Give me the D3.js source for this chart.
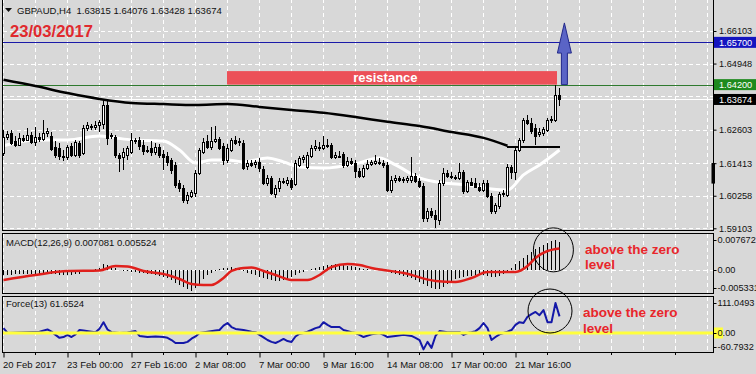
<!DOCTYPE html>
<html>
<head>
<meta charset="utf-8">
<script src="https://cdn.jsdelivr.net/npm/d3@7/dist/d3.min.js"></script>
<style>
html,body{margin:0;padding:0;background:#d8d8d8;}
svg{display:block;}
text{font-family:"Liberation Sans",Arial,sans-serif;}
</style>
</head>
<body>
<svg id="chart" width="756" height="374"></svg>
<script>
// ---------------- data ----------------
const symbolTitle = "GBPAUD,H4";
const lastOHLC = [1.63815, 1.64076, 1.63428, 1.63674];
const dateTitle = "23/03/2017";
const timeLabels = ["20 Feb 2017","23 Feb 00:00","27 Feb 16:00","2 Mar 08:00","7 Mar 00:00","9 Mar 16:00","14 Mar 08:00","17 Mar 00:00","21 Mar 16:00"];
const timeLabelBars = [0,16,32,48,64,80,96,112,128];
const priceTicks = [1.66103,1.64948,1.63793,1.62603,1.61413,1.60258,1.59103];

const open = [
1.6178,1.6234,1.6249,1.6220,1.6206,1.6231,1.6224,1.6242,1.6217,1.6234,
1.6227,1.6249,1.6238,1.6199,1.6195,1.6167,1.6164,1.6203,1.6171,1.6213,
1.6178,1.6266,1.6273,1.6270,1.6277,1.6281,1.6348,1.6238,1.6234,1.6171,
1.6164,1.6171,1.6181,1.6220,1.6224,1.6206,1.6185,1.6195,1.6181,1.6199,
1.6174,1.6167,1.6153,1.6135,1.6071,1.6054,1.6011,1.6025,1.6036,1.6107,
1.6181,1.6220,1.6199,1.6220,1.6227,1.6203,1.6153,1.6188,1.6224,1.6220,
1.6213,1.6132,1.6142,1.6139,1.6146,1.6121,1.6071,1.6089,1.6032,1.6054,
1.6078,1.6071,1.6082,1.6068,1.6135,1.6156,1.6128,1.6167,1.6195,1.6199,
1.6195,1.6206,1.6206,1.6164,1.6167,1.6174,1.6135,1.6149,1.6142,1.6114,
1.6096,1.6124,1.6139,1.6142,1.6146,1.6142,1.6135,1.6046,1.6082,1.6089,
1.6082,1.6082,1.6082,1.6096,1.6078,1.6061,1.5947,1.5972,1.5958,1.5940,
1.6071,1.6107,1.6096,1.6093,1.6089,1.6110,1.6043,1.6075,1.6071,1.6057,
1.6046,1.6071,1.6025,1.5972,1.5990,1.6032,1.6029,1.6128,1.6110,1.6188,
1.6224,1.6295,1.6284,1.6266,1.6245,1.6249,1.6259,1.6295,1.6295,1.63815];
const high = [
1.6259,1.6256,1.6259,1.6238,1.6249,1.6242,1.6266,1.6252,1.6270,1.6249,
1.6295,1.6266,1.6252,1.6220,1.6213,1.6188,1.6206,1.6213,1.6224,1.6220,
1.6277,1.6288,1.6281,1.6291,1.6295,1.6369,1.6362,1.6249,1.6242,1.6178,
1.6195,1.6203,1.6249,1.6231,1.6234,1.6224,1.6203,1.6220,1.6213,1.6210,
1.6188,1.6181,1.6160,1.6146,1.6082,1.6064,1.6039,1.6046,1.6117,1.6195,
1.6231,1.6242,1.6270,1.6273,1.6234,1.6213,1.6210,1.6231,1.6238,1.6231,
1.6224,1.6153,1.6153,1.6153,1.6160,1.6132,1.6100,1.6096,1.6064,1.6089,
1.6089,1.6093,1.6089,1.6153,1.6167,1.6171,1.6181,1.6206,1.6224,1.6217,
1.6238,1.6227,1.6213,1.6181,1.6185,1.6181,1.6164,1.6160,1.6153,1.6124,
1.6135,1.6153,1.6153,1.6171,1.6160,1.6153,1.6146,1.6096,1.6100,1.6096,
1.6093,1.6096,1.6164,1.6107,1.6089,1.6071,1.5983,1.5983,1.5975,1.6082,
1.6124,1.6117,1.6110,1.6100,1.6142,1.6117,1.6082,1.6089,1.6089,1.6071,
1.6082,1.6082,1.6036,1.6000,1.6039,1.6046,1.6139,1.6135,1.6195,1.6231,
1.6302,1.6312,1.6302,1.6281,1.6266,1.6270,1.6302,1.6309,1.6420,1.64076];
const low = [
1.6167,1.6224,1.6206,1.6199,1.6203,1.6217,1.6220,1.6210,1.6203,1.6217,
1.6220,1.6234,1.6185,1.6160,1.6153,1.6149,1.6153,1.6164,1.6164,1.6160,
1.6171,1.6256,1.6259,1.6259,1.6252,1.6263,1.6206,1.6227,1.6160,1.6110,
1.6117,1.6153,1.6174,1.6210,1.6188,1.6171,1.6178,1.6167,1.6171,1.6160,
1.6117,1.6132,1.6103,1.6054,1.6039,1.6000,1.5997,1.6018,1.6022,1.6100,
1.6174,1.6192,1.6188,1.6213,1.6188,1.6135,1.6142,1.6181,1.6206,1.6203,
1.6117,1.6117,1.6128,1.6124,1.6110,1.6064,1.6061,1.6029,1.6018,1.6039,
1.6068,1.6061,1.6046,1.6061,1.6128,1.6142,1.6121,1.6160,1.6185,1.6185,
1.6188,1.6195,1.6156,1.6156,1.6160,1.6124,1.6128,1.6135,1.6089,1.6089,
1.6089,1.6117,1.6132,1.6135,1.6135,1.6124,1.6039,1.6036,1.6071,1.6075,
1.6071,1.6071,1.6071,1.6071,1.6054,1.5933,1.5933,1.5947,1.5912,1.5922,
1.6061,1.6089,1.6085,1.6082,1.6082,1.6032,1.6036,1.6061,1.6054,1.6039,
1.6039,1.6018,1.5961,1.5961,1.5979,1.6022,1.6022,1.6085,1.6082,1.6181,
1.6213,1.6277,1.6245,1.6206,1.6234,1.6238,1.6252,1.6284,1.6288,1.63428];
const close = [
1.6234,1.6245,1.6213,1.6206,1.6231,1.6224,1.6242,1.6217,1.6234,1.6227,
1.6249,1.6256,1.6192,1.6171,1.6167,1.6164,1.6199,1.6171,1.6217,1.6171,
1.6266,1.6277,1.6270,1.6277,1.6288,1.6348,1.6231,1.6242,1.6171,1.6160,
1.6181,1.6195,1.6224,1.6224,1.6203,1.6185,1.6188,1.6181,1.6199,1.6171,
1.6164,1.6146,1.6117,1.6064,1.6054,1.6011,1.6029,1.6039,1.6107,1.6188,
1.6217,1.6199,1.6220,1.6227,1.6195,1.6153,1.6195,1.6224,1.6213,1.6217,
1.6124,1.6142,1.6135,1.6146,1.6124,1.6071,1.6089,1.6036,1.6054,1.6078,
1.6075,1.6082,1.6057,1.6142,1.6160,1.6164,1.6171,1.6195,1.6203,1.6195,
1.6206,1.6203,1.6164,1.6171,1.6164,1.6135,1.6149,1.6142,1.6114,1.6096,
1.6124,1.6139,1.6146,1.6149,1.6142,1.6135,1.6046,1.6082,1.6089,1.6082,
1.6085,1.6089,1.6096,1.6078,1.6061,1.5947,1.5972,1.5958,1.5944,1.6071,
1.6107,1.6096,1.6093,1.6089,1.6110,1.6043,1.6075,1.6064,1.6057,1.6046,
1.6071,1.6025,1.5972,1.5993,1.6032,1.6036,1.6128,1.6110,1.6188,1.6224,
1.6295,1.6284,1.6256,1.6238,1.6252,1.6263,1.6295,1.6298,1.6383,1.63674];

// moving averages read at sampled bars: [bar, price]
const slowMA = [[0,1.6437],[8,1.6415],[16,1.6390],[24,1.6369],[32,1.6355],[40,1.6351],[48,1.6348],[56,1.6351],[64,1.6341],[72,1.6330],[80,1.6320],[88,1.6305],[96,1.6288],[104,1.6273],[112,1.6252],[120,1.6231],[126,1.6203]];
const fastMA = [[0,1.6203],[8,1.6224],[16,1.6224],[24,1.6238],[28,1.6231],[32,1.6224],[40,1.6220],[44,1.6188],[48,1.6142],[52,1.6153],[56,1.6153],[60,1.6146],[66,1.6160],[70,1.6146],[74,1.6128],[80,1.6124],[88,1.6139],[94,1.6160],[98,1.6135],[104,1.6089],[110,1.6071],[116,1.6064],[122,1.6050],[126,1.6046],[130,1.6100],[134,1.6135],[139,1.6188]];

const supportLevel = 1.6199, supportBars = [126, 139.25];
const resistanceLevel = 1.6420, targetLevel = 1.6570;
const resistanceZone = [1.6420, 1.6468], resistanceBars = [56, 138.5];
const arrowBars = {headL:138.6, shaftL:139.6, tip:140.35, shaftR:141.1, headR:142.1};
const arrowPrices = {base:1.6420, neck:1.6532, tip:1.6639};
const axisMarker = [1.6069, 1.6142];

const macdHist = [
-0.00128,-0.00128,-0.00128,-0.00102,-0.00102,-0.00102,-0.00102,-0.00102,-0.00102,-0.00102,
-0.00077,-0.00077,-0.00102,-0.00102,-0.00128,-0.00128,-0.00128,-0.00128,-0.00102,-0.00102,
-0.00051,-0.00026,0,0.00026,0.00051,0.00153,0.00128,0.00077,0.00051,0,
-0.00026,-0.00026,-0.00051,-0.00051,-0.00077,-0.00077,-0.00102,-0.00102,-0.00128,-0.00153,
-0.00179,-0.00205,-0.00256,-0.00333,-0.00384,-0.00435,-0.00486,-0.005331,-0.00460,-0.00358,
-0.00230,-0.00128,-0.00077,-0.00026,0.00026,0.00051,0.00051,0.00077,0.00051,0.00026,
-0.00026,-0.00077,-0.00102,-0.00128,-0.00179,-0.00205,-0.00230,-0.00256,-0.00281,-0.00281,
-0.00256,-0.00230,-0.00179,-0.00128,-0.00077,-0.00051,0,0.00026,0.00051,0.00077,
0.00102,0.00128,0.00128,0.00153,0.00153,0.00128,0.00102,0.00102,0.00077,0.00051,
0.00026,0.00026,0,0,0.00026,0.00026,-0.00026,-0.00077,-0.00102,-0.00128,
-0.00153,-0.00179,-0.00205,-0.00256,-0.00307,-0.00358,-0.00409,-0.00460,-0.00486,-0.00486,
-0.00435,-0.00358,-0.00281,-0.00230,-0.00205,-0.00179,-0.00153,-0.00153,-0.00128,-0.00128,
-0.00128,-0.00153,-0.00179,-0.00179,-0.00153,-0.00102,-0.00026,0.00051,0.00153,0.00230,
0.00307,0.00384,0.00460,0.00537,0.00588,0.00640,0.00691,0.00729,0.007672,0.007081];
const macdSignal = [[0,-0.00256],[8,-0.00128],[16,-0.00026],[24,-0.00013],[28,0.00102],[31,0.00090],[35,-0.00026],[41,-0.00128],[44,-0.00230],[47,-0.00358],[50,-0.00384],[52,-0.00384],[55,-0.00205],[57,-0.00026],[60,0.00051],[62,0.00064],[65,-0.00026],[68,-0.00128],[72,-0.00256],[76,-0.00256],[79,-0.00128],[82,0.00077],[86,0.00153],[89,0.00128],[92,0.00051],[95,0.0],[100,-0.00077],[108,-0.00281],[113,-0.00307],[117,-0.00205],[121,-0.00051],[128,-0.00051],[131,0.00102],[133,0.00307],[136,0.00486],[139,0.005524]];
const macdTicks = [0.007672, 0, -0.005331];
const macdTitle = "MACD(12,26,9) 0.007081 0.005524";

const forceSeries = [[0,18],[1,0],[4,2],[9,5],[11,13],[12,5],[13,-7],[14,-18],[15,-15],[16,-7],[17,-15],[18,-5],[19,11],[20,9],[22,5],[23,3],[24,16],[25,40],[26,13],[27,3],[29,0],[31,2],[33,7],[34,-11],[36,-15],[38,-13],[40,-15],[41,-18],[42,-26],[43,-37],[45,-37],[46,-33],[47,-21],[48,-13],[49,0],[51,5],[53,9],[54,11],[55,27],[56,37],[57,22],[58,15],[60,11],[62,5],[63,3],[64,-7],[65,-16],[66,-26],[67,-33],[68,-37],[69,-30],[70,-22],[71,-30],[72,-33],[73,-13],[74,-3],[75,0],[76,5],[77,11],[78,18],[79,22],[80,40],[81,30],[82,22],[83,22],[84,22],[85,11],[87,3],[88,0],[89,-7],[90,-15],[92,-5],[94,0],[95,-7],[96,-15],[98,-11],[100,-7],[102,-11],[103,-18],[104,-26],[105,-60.7932],[106,-33],[107,-55],[108,-11],[109,7],[111,3],[113,3],[114,3],[115,-7],[116,0],[117,3],[118,7],[119,18],[120,37],[121,18],[122,-26],[123,-15],[124,-5],[125,0],[126,5],[127,11],[128,30],[129,40],[130,37],[131,60],[132,70],[133,78],[134,66],[135,85],[136,40],[137,40],[138,111.0493],[139,61.6524]];
const forceTicks = [111.0493, 0, -60.7932];
const forceTitle = "Force(13) 61.6524";

const noteLines = ["above the zero", "level"];
const macdNote = {bar:145.5, vals:[0.00409, 0.00013], circle:{bar:137.6, val:0.00515}};
const forceNote = {bar:145, vals:[60.3, 1.1], circle:{bar:136.75, val:81.4}};

// ---------------- layout ----------------
const W = 756, H = 374;
const plotL = 2.5, plotR = 713.5;
const AXF = "9.2px";
const wins = {
  main:{t:-1, b:230.5},
  macd:{t:233.5, b:293.5},
  force:{t:296.5, b:352.5}
};
const BG = "#d8d8d8";
const x = d3.scaleLinear().domain([0,176]).range([3,707]);
const yMain = d3.scaleLinear().domain([1.59103,1.66103]).range([228.3,31]);
const yMacd = d3.scaleLinear().domain([-0.005331,0.007672]).range([290.8,240]);
const yForce = d3.scaleLinear().domain([-60.7932,111.0493]).range([349.4,303]);

const svg = d3.select("#chart");
svg.append("rect").attr("width",W).attr("height",H).attr("fill",BG);
const defs = svg.append("defs");
Object.entries(wins).forEach(([k,w])=>{
  defs.append("clipPath").attr("id","clip-"+k).append("rect")
    .attr("x",plotL).attr("y",w.t).attr("width",plotR-plotL).attr("height",w.b-w.t);
});
defs.append("clipPath").attr("id","clip-axis").append("rect")
  .attr("x",plotR).attr("y",0).attr("width",W-plotR).attr("height",H);
const layer = k => svg.append("g").attr("clip-path","url(#clip-"+k+")");

// ---- grids ----
const gridBars = d3.range(0,177,8);
Object.entries(wins).forEach(([k,w])=>{
  const g = layer(k).attr("shape-rendering","crispEdges");
  g.selectAll("line").data(gridBars).join("line")
    .attr("x1",d=>x(d)+0.5).attr("x2",d=>x(d)+0.5)
    .attr("y1",w.t).attr("y2",w.b)
    .attr("stroke","#ffffff").attr("stroke-dasharray","4,3");
});
const gMain = layer("main");
gMain.append("g").attr("shape-rendering","crispEdges")
  .selectAll("line").data(priceTicks).join("line")
  .attr("x1",plotL).attr("x2",plotR)
  .attr("y1",d=>Math.round(yMain(d))+0.5).attr("y2",d=>Math.round(yMain(d))+0.5)
  .attr("stroke","#ffffff").attr("stroke-dasharray","4,3");

// ---- horizontal levels ----
const hl = (g,y,color,w)=>g.append("line").attr("x1",plotL).attr("x2",plotR)
  .attr("y1",y).attr("y2",y).attr("stroke",color).attr("stroke-width",w)
  .attr("shape-rendering","crispEdges");
hl(gMain, Math.round(yMain(targetLevel))+0.5, "#1a1aa8", 1);
hl(gMain, Math.round(yMain(resistanceLevel))+0.5, "#2f7a2f", 1);
hl(gMain, Math.round(yMain(lastOHLC[3]))+0.5, "#ffffff", 1);

// ---- resistance zone ----
gMain.append("rect")
  .attr("x",x(resistanceBars[0])).attr("width",x(resistanceBars[1])-x(resistanceBars[0]))
  .attr("y",yMain(resistanceZone[1])).attr("height",yMain(resistanceZone[0])-yMain(resistanceZone[1]))
  .attr("fill","#ec5058");
gMain.append("text").attr("x",x(95.6)).attr("y",yMain(resistanceZone[0])-3)
  .attr("text-anchor","middle").attr("font-size","13px").attr("font-weight","bold")
  .attr("fill","#ffffff").text("resistance");

// ---- moving averages ----
const maLine = d3.line().x(d=>x(d[0])+0.5).y(d=>yMain(d[1])).curve(d3.curveMonotoneX);
gMain.append("path").attr("d",maLine(fastMA)).attr("fill","none").attr("stroke","#ffffff").attr("stroke-width",3);
gMain.append("path").attr("d",maLine(slowMA)).attr("fill","none").attr("stroke","#000").attr("stroke-width",2.5);
gMain.append("line").attr("x1",x(supportBars[0])).attr("x2",x(supportBars[1]))
  .attr("y1",yMain(supportLevel)).attr("y2",yMain(supportLevel))
  .attr("stroke","#000").attr("stroke-width",2);

// ---- candles ----
const bars = d3.range(open.length).map(i=>({i,o:open[i],h:high[i],l:low[i],c:close[i]}));
const cg = gMain.append("g").attr("shape-rendering","crispEdges");
cg.selectAll("line").data(bars).join("line")
  .attr("x1",d=>x(d.i)+0.5).attr("x2",d=>x(d.i)+0.5)
  .attr("y1",d=>Math.round(yMain(d.h))).attr("y2",d=>Math.round(yMain(d.l)))
  .attr("stroke","#000");
cg.selectAll("rect").data(bars).join("rect")
  .attr("x",d=>x(d.i)-0.5).attr("width",2)
  .attr("y",d=>Math.round(yMain(Math.max(d.o,d.c)))+0.5)
  .attr("height",d=>Math.max(1,Math.round(yMain(Math.min(d.o,d.c)))-Math.round(yMain(Math.max(d.o,d.c)))))
  .attr("fill",d=>d.c>=d.o?"#ffffff":"#000000").attr("stroke","#000");

// ---- arrow ----
const ap = [
  [arrowBars.shaftL, arrowPrices.base],[arrowBars.shaftL, arrowPrices.neck],
  [arrowBars.headL, arrowPrices.neck],[arrowBars.tip, arrowPrices.tip],
  [arrowBars.headR, arrowPrices.neck],[arrowBars.shaftR, arrowPrices.neck],
  [arrowBars.shaftR, arrowPrices.base]];
svg.append("polygon").attr("points",ap.map(p=>[x(p[0]),yMain(p[1])].join(",")).join(" "))
  .attr("fill","#5a64c6").attr("stroke","#22298a").attr("stroke-width",1);

// ---- header texts ----
svg.append("polygon").attr("points","5,8 12,8 8.5,12").attr("fill","#111");
svg.append("text").attr("x",17).attr("y",13.5).attr("font-size","9.5px").attr("fill","#111")
  .attr("xml:space","preserve")
  .text(symbolTitle+"  "+lastOHLC.map(d=>d.toFixed(5)).join(" "));
svg.append("text").attr("x",10).attr("y",37).attr("font-size","16.6px").attr("font-weight","bold")
  .attr("fill","#e02a2e").text(dateTitle);

// ---- MACD window ----
const gMacd = layer("macd");
gMacd.append("line").attr("x1",plotL).attr("x2",plotR)
  .attr("y1",Math.round(yMacd(0))+0.5).attr("y2",Math.round(yMacd(0))+0.5)
  .attr("stroke","#ffffff").attr("stroke-dasharray","4,3").attr("shape-rendering","crispEdges");
gMacd.append("g").attr("shape-rendering","crispEdges")
  .selectAll("line").data(macdHist).join("line")
  .attr("x1",(d,i)=>x(i)+0.5).attr("x2",(d,i)=>x(i)+0.5)
  .attr("y1",Math.round(yMacd(0))).attr("y2",d=>Math.round(yMacd(d)))
  .attr("stroke","#000");
gMacd.append("path").attr("d",d3.line().x(d=>x(d[0])+0.5).y(d=>yMacd(d[1])).curve(d3.curveMonotoneX)(macdSignal))
  .attr("fill","none").attr("stroke","#e0201c").attr("stroke-width",2.5);
svg.append("text").attr("x",6).attr("y",246).attr("font-size","9.5px").attr("fill","#111").text(macdTitle);

// ---- Force window ----
const gForce = layer("force");
gForce.append("path").attr("d",d3.line().x(d=>x(d[0])+0.5).y(d=>yForce(d[1]))(forceSeries))
  .attr("fill","none").attr("stroke","#1418a8").attr("stroke-width",2).attr("stroke-linejoin","round");
gForce.append("line").attr("x1",plotL).attr("x2",plotR)
  .attr("y1",yForce(0)).attr("y2",yForce(0)).attr("stroke","#ffff3c").attr("stroke-width",3);
svg.append("text").attr("x",6).attr("y",307).attr("font-size","9.5px").attr("fill","#111").text(forceTitle);

// ---- window borders ----
Object.values(wins).forEach(w=>{
  svg.append("rect").attr("x",plotL).attr("y",w.t).attr("width",plotR-plotL).attr("height",w.b-w.t)
    .attr("fill","none").attr("stroke","#000").attr("shape-rendering","crispEdges");
});

// ---- price axis (main) ----
const axMain = svg.append("g").attr("transform","translate("+plotR+",0)")
  .call(d3.axisRight(yMain).tickValues(priceTicks).tickSize(3).tickPadding(2.5).tickFormat(d3.format(".5f")));
axMain.select(".domain").remove();
axMain.selectAll("text").attr("font-size",AXF).attr("fill","#111").attr("font-family","'Liberation Sans',Arial,sans-serif");
axMain.selectAll("line").attr("stroke","#000");

// marker on axis
svg.append("rect").attr("x",plotR-2).attr("width",3.5)
  .attr("y",yMain(axisMarker[1])).attr("height",yMain(axisMarker[0])-yMain(axisMarker[1])).attr("fill","#000");

// level boxes
const levelBox = (y,val,bg,fg)=>{
  svg.append("rect").attr("x",plotR+0.5).attr("y",y-5.5).attr("width",W-plotR).attr("height",11).attr("fill",bg);
  svg.append("text").attr("x",plotR+5.5).attr("y",y).attr("dy","0.35em").attr("font-size",AXF).attr("fill",fg).text(val);
};
levelBox(yMain(targetLevel), targetLevel.toFixed(5), "#1414c0", "#ffffff");
levelBox(yMain(resistanceLevel), resistanceLevel.toFixed(5), "#1e8a1e", "#ffffff");
levelBox(yMain(lastOHLC[3]), lastOHLC[3].toFixed(5), "#000000", "#ffffff");

// sub-window axes
const subAxis = (scale, ticks, fmt, win)=>{
  const g = svg.append("g").attr("clip-path","url(#clip-axis)").append("g").attr("transform","translate("+plotR+",0)");
  ticks.forEach(t=>{
    const yy = Math.min(scale(t), win.b-6);
    g.append("line").attr("x1",0).attr("x2",3).attr("y1",Math.round(yy)+0.5).attr("y2",Math.round(yy)+0.5).attr("stroke","#000");
    g.append("text").attr("x",4).attr("y",yy).attr("dy","0.35em").attr("font-size",AXF).attr("fill","#111").text(fmt(t));
  });
  return g;
};
subAxis(yMacd, macdTicks, d=> d===0 ? "0.00" : String(d), wins.macd);
svg.append("rect").attr("x",plotR+0.5).attr("y",yForce(0)-5.5).attr("width",9).attr("height",11).attr("fill","#ffff3c");
subAxis(yForce, forceTicks, d=> d===0 ? "0.00" : d.toFixed(4), wins.force);

// ---- time axis ----
const axT = svg.append("g").attr("transform","translate(0.5,"+wins.force.b+")")
  .call(d3.axisBottom(x).tickValues(timeLabelBars).tickSize(5).tickPadding(4).tickFormat((d,i)=>timeLabels[i]));
axT.select(".domain").remove();
axT.selectAll("line").attr("stroke","#000");
axT.selectAll("text").attr("text-anchor","start").attr("x",-1).attr("font-size","9.5px").attr("fill","#111")
  .attr("font-family","'Liberation Sans',Arial,sans-serif");
svg.append("g").attr("shape-rendering","crispEdges").selectAll("line")
  .data(d3.range(8,177,16)).join("line")
  .attr("x1",d=>x(d)+0.5).attr("x2",d=>x(d)+0.5).attr("y1",wins.force.b).attr("y2",wins.force.b+2.5).attr("stroke","#000");

// ---- annotations ----
const note = (scale, cfg)=>{
  noteLines.forEach((s,i)=>{
    svg.append("text").attr("x",x(cfg.bar)).attr("y",scale(cfg.vals[i]))
      .attr("font-size","13.5px").attr("font-weight","bold").attr("fill","#e8262b").text(s);
  });
};
note(yMacd, macdNote);
note(yForce, forceNote);
svg.append("ellipse").attr("cx",x(macdNote.circle.bar)).attr("cy",yMacd(macdNote.circle.val))
  .attr("rx",20).attr("ry",22).attr("fill","none").attr("stroke","#000").attr("stroke-width",1);
svg.append("ellipse").attr("cx",x(forceNote.circle.bar)).attr("cy",yForce(forceNote.circle.val))
  .attr("rx",22).attr("ry",22).attr("fill","none").attr("stroke","#000").attr("stroke-width",1);
</script>
</body>
</html>
